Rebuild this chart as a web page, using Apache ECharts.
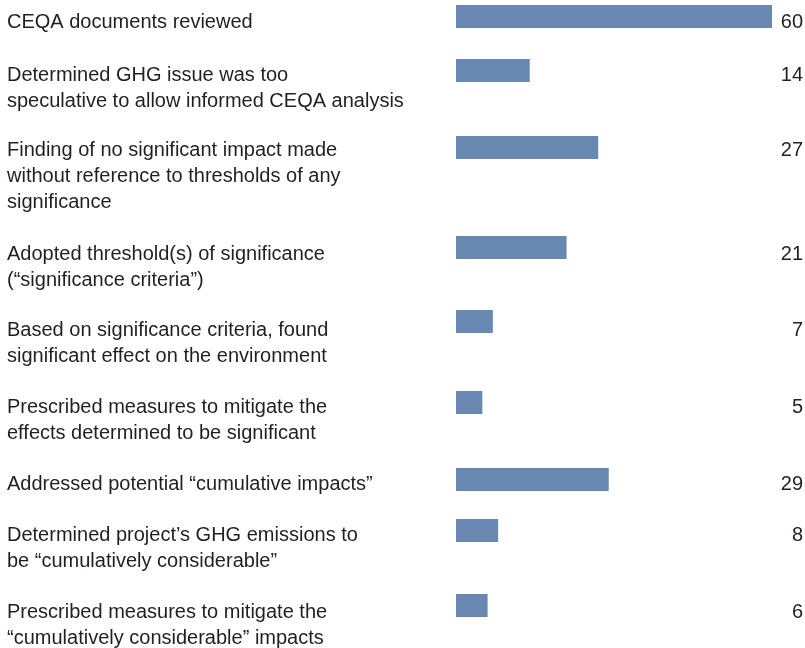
<!DOCTYPE html>
<html>
<head>
<meta charset="utf-8">
<script src="https://cdn.jsdelivr.net/npm/echarts@6/dist/echarts.min.js"></script>
<style>
html,body{margin:0;padding:0;background:#fff;}
#chart{width:805px;height:648px;}
</style>
</head>
<body>
<div id="chart"></div>
<script>
// ---- data ----
const categories = [
  "CEQA documents reviewed",
  "Determined GHG issue was too\nspeculative to allow informed CEQA analysis",
  "Finding of no significant impact made\nwithout reference to thresholds of any\nsignificance",
  "Adopted threshold(s) of significance\n(\u201csignificance criteria\u201d)",
  "Based on significance criteria, found\nsignificant effect on the environment",
  "Prescribed measures to mitigate the\neffects determined to be significant",
  "Addressed potential \u201ccumulative impacts\u201d",
  "Determined project\u2019s GHG emissions to\nbe \u201ccumulatively considerable\u201d",
  "Prescribed measures to mitigate the\n\u201ccumulatively considerable\u201d impacts"
];
const values = [60, 14, 27, 21, 7, 5, 29, 8, 6];
const axisMax = 60;

// ---- layout (pixels) ----
const barTops  = [5, 59, 136, 236, 310, 391, 468, 519, 594];
const textTops = [10, 63, 138, 242, 318, 395, 472, 523, 600];
const barH = 23;
const plotLeft = 456, plotRight = 33;
const textColor = '#231f20';
const barColor = '#6888b2';
const font = 'Liberation Sans, Arial, sans-serif';

const grids = [], xAxes = [], yAxes = [], series = [];
categories.forEach((cat, i) => {
  grids.push({left: plotLeft, right: plotRight, top: barTops[i], height: barH,
              containLabel: false, outerBoundsMode: 'none'});
  xAxes.push({gridIndex: i, type: 'value', min: 0, max: axisMax, show: false});
  const padTop = textTops[i] - (barTops[i] + barH / 2);
  yAxes.push({
    gridIndex: i, type: 'category', data: [cat],
    axisLine: {show: false}, axisTick: {show: false}, splitLine: {show: false},
    axisLabel: {
      align: 'left', margin: plotLeft - 7, verticalAlign: 'top',
      padding: [padTop, 0, 0, 0], lineHeight: 25.6,
      fontSize: 20, fontFamily: font, color: textColor, interval: 0
    }
  });
  yAxes.push({
    gridIndex: i, type: 'category', position: 'right', data: [cat],
    axisLine: {show: false}, axisTick: {show: false}, splitLine: {show: false},
    axisLabel: {
      formatter: () => String(values[i]),
      align: 'right', margin: 31, verticalAlign: 'top',
      padding: [padTop, 0, 0, 0], lineHeight: 25.6,
      fontSize: 20, fontFamily: font, color: textColor, interval: 0
    }
  });
  series.push({
    type: 'bar', xAxisIndex: i, yAxisIndex: i * 2,
    data: [values[i]], barWidth: barH, clip: false,
    itemStyle: {color: barColor}, silent: true
  });
});

const chart = echarts.init(document.getElementById('chart'), null, {renderer: 'canvas'});
chart.setOption({
  animation: false,
  backgroundColor: '#fff',
  grid: grids, xAxis: xAxes, yAxis: yAxes, series: series
});
</script>
</body>
</html>
